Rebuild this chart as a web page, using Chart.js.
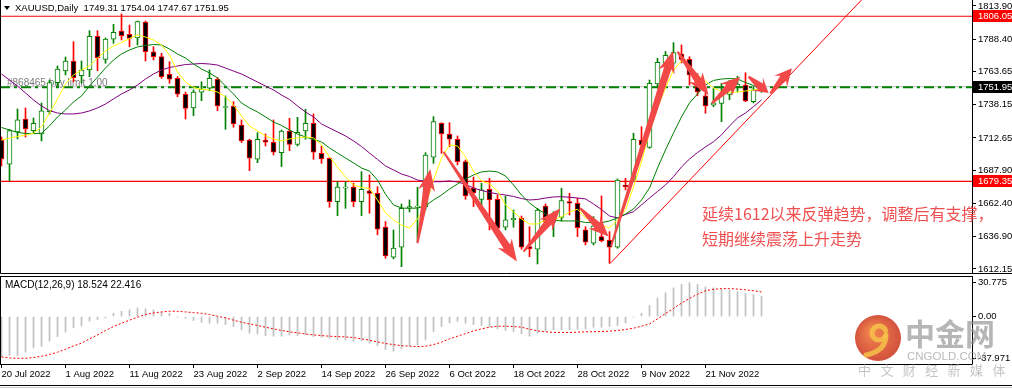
<!DOCTYPE html>
<html>
<head>
<meta charset="utf-8">
<script src="https://cdn.jsdelivr.net/npm/chart.js@4/dist/chart.umd.min.js"></script>
<style>
html, body { margin: 0; padding: 0; background: #fff; }
#wrap { position: relative; width: 1012px; height: 389px; overflow: hidden; background: #fff; }
canvas { position: absolute; left: 0; }
#main { top: 0; }
#macd { top: 275px; }
</style>
</head>
<body>
<div id="wrap">
  <canvas id="main" width="1012" height="275"></canvas>
  <canvas id="macd" width="1012" height="114"></canvas>
</div>
<script>
// XAUUSD daily candles
const dates = [
  '20 Jul 2022','21 Jul 2022','22 Jul 2022','25 Jul 2022','26 Jul 2022','27 Jul 2022','28 Jul 2022','29 Jul 2022',
  '1 Aug 2022','2 Aug 2022','3 Aug 2022','4 Aug 2022','5 Aug 2022','8 Aug 2022','9 Aug 2022','10 Aug 2022',
  '11 Aug 2022','12 Aug 2022','15 Aug 2022','16 Aug 2022','17 Aug 2022','18 Aug 2022','19 Aug 2022','22 Aug 2022',
  '23 Aug 2022','24 Aug 2022','25 Aug 2022','26 Aug 2022','29 Aug 2022','30 Aug 2022','31 Aug 2022','1 Sep 2022',
  '2 Sep 2022','5 Sep 2022','6 Sep 2022','7 Sep 2022','8 Sep 2022','9 Sep 2022','12 Sep 2022','13 Sep 2022',
  '14 Sep 2022','15 Sep 2022','16 Sep 2022','19 Sep 2022','20 Sep 2022','21 Sep 2022','22 Sep 2022','23 Sep 2022',
  '26 Sep 2022','27 Sep 2022','28 Sep 2022','29 Sep 2022','30 Sep 2022','3 Oct 2022','4 Oct 2022','5 Oct 2022',
  '6 Oct 2022','7 Oct 2022','10 Oct 2022','11 Oct 2022','12 Oct 2022','13 Oct 2022','14 Oct 2022','17 Oct 2022',
  '18 Oct 2022','19 Oct 2022','20 Oct 2022','21 Oct 2022','24 Oct 2022','25 Oct 2022','26 Oct 2022','27 Oct 2022',
  '28 Oct 2022','31 Oct 2022','1 Nov 2022','2 Nov 2022','3 Nov 2022','4 Nov 2022','7 Nov 2022','8 Nov 2022',
  '9 Nov 2022','10 Nov 2022','11 Nov 2022','14 Nov 2022','15 Nov 2022','16 Nov 2022','17 Nov 2022','18 Nov 2022',
  '21 Nov 2022','22 Nov 2022','23 Nov 2022','24 Nov 2022','25 Nov 2022','28 Nov 2022','29 Nov 2022','30 Nov 2022'
];

const open = [
  1711.1,1692.5,1717.3,1727.2,1718.3,1715.7,1732.8,1755.1,1764.0,1771.7,
  1760.4,1764.8,1790.7,1773.0,1788.4,1794.7,1792.2,1789.4,1801.6,1778.8,
  1775.0,1761.5,1758.4,1746.2,1735.7,1747.7,1750.8,1757.7,1736.0,1737.2,
  1722.6,1711.1,1696.3,1711.1,1709.4,1701.4,1718.0,1707.8,1718.0,1723.9,
  1700.9,1697.1,1663.8,1674.2,1674.9,1663.8,1672.2,1670.2,1644.2,1621.2,
  1628.8,1659.0,1659.5,1660.0,1697.9,1723.9,1715.7,1711.7,1694.5,1674.3,
  1665.6,1673.3,1665.6,1644.2,1650.0,1651.1,1629.3,1627.3,1660.5,1648.1,
  1651.8,1663.8,1662.6,1642.1,1631.9,1637.0,1634.4,1628.8,1676.6,1680.4,
  1711.1,1705.5,1754.1,1770.0,1770.0,1777.1,1773.0,1758.0,1744.9,1737.9,
  1739.2,1746.0,1752.0,1753.3,1740.5,1749.31
];
const high = [
  1713.4,1719.3,1734.9,1735.7,1728.0,1739.5,1757.0,1767.9,1774.8,1786.5,
  1771.7,1795.0,1795.0,1789.4,1799.9,1807.8,1799.3,1802.4,1802.4,1782.7,
  1777.6,1771.2,1759.7,1747.9,1749.5,1755.8,1764.8,1758.9,1744.9,1740.5,
  1726.5,1711.7,1716.7,1715.7,1726.5,1718.8,1727.8,1728.5,1734.7,1731.1,
  1706.5,1697.5,1679.1,1679.1,1677.9,1686.8,1684.3,1675.3,1648.5,1642.1,
  1662.0,1665.1,1674.9,1701.4,1729.0,1724.4,1724.4,1714.2,1695.8,1682.7,
  1677.9,1681.7,1668.9,1668.2,1657.4,1652.8,1644.6,1658.7,1662.0,1656.1,
  1674.1,1670.2,1666.4,1644.6,1652.3,1668.2,1640.8,1681.2,1681.7,1716.3,
  1721.3,1757.1,1773.8,1779.0,1785.8,1784.0,1775.0,1762.0,1747.0,1750.8,
  1754.6,1757.0,1760.0,1762.7,1752.0,1754.04
];
const low = [
  1691.2,1679.9,1711.9,1713.4,1716.5,1710.4,1731.0,1751.8,1761.0,1755.8,
  1754.8,1759.7,1764.3,1770.0,1785.3,1787.8,1782.7,1784.0,1771.7,1772.5,
  1758.4,1754.6,1744.3,1727.2,1729.8,1741.3,1748.9,1733.6,1719.3,1720.9,
  1709.1,1687.6,1693.7,1706.5,1699.6,1690.7,1702.9,1706.5,1711.7,1696.3,
  1693.2,1659.5,1653.0,1658.7,1660.0,1653.0,1654.9,1638.3,1620.4,1619.9,
  1613.9,1655.9,1633.1,1657.4,1693.2,1700.9,1706.0,1692.0,1665.6,1660.0,
  1660.0,1642.1,1642.6,1642.1,1644.2,1627.3,1621.6,1616.0,1647.2,1637.0,
  1649.0,1653.6,1637.0,1630.6,1630.6,1632.9,1616.5,1628.1,1672.8,1679.1,
  1706.5,1704.7,1751.0,1764.0,1767.9,1770.2,1753.3,1745.0,1731.6,1736.6,
  1725.2,1742.0,1748.0,1740.5,1739.5,1747.67
];
const close = [
  1696.5,1718.3,1726.5,1719.6,1723.9,1733.4,1755.1,1765.6,1771.7,1758.9,
  1764.8,1790.7,1774.2,1788.6,1793.7,1791.1,1789.1,1801.9,1778.8,1775.0,
  1759.7,1757.7,1746.2,1735.4,1747.9,1750.0,1758.4,1737.2,1736.8,1723.4,
  1710.4,1697.1,1711.7,1709.4,1701.7,1718.0,1707.8,1717.0,1723.9,1701.7,
  1696.6,1663.8,1674.9,1675.0,1663.8,1673.3,1670.2,1642.6,1622.2,1628.1,
  1658.7,1660.0,1660.5,1699.6,1725.2,1715.7,1711.7,1694.5,1668.2,1670.5,
  1672.8,1665.1,1643.4,1649.8,1651.0,1628.8,1627.7,1657.4,1648.5,1651.3,
  1664.6,1662.6,1643.9,1632.7,1645.2,1633.9,1628.8,1680.4,1675.3,1711.7,
  1707.3,1754.6,1770.7,1776.0,1778.1,1773.0,1761.0,1748.0,1737.2,1739.7,
  1746.9,1752.0,1754.0,1741.0,1749.5,1751.95
];

// moving averages as drawn (yellow fast, green medium, purple slow)
const maFast = [
  1711.1,1712.6,1713.8,1714.9,1716.3,1721.1,1731.8,1742.6,1754.1,1761.0,
  1764.8,1767.9,1774.0,1779.4,1783.2,1785.9,1789.0,1791.7,1790.1,1787.8,
  1784.0,1776.3,1763.3,1755.6,1751.4,1749.9,1749.5,1747.9,1744.1,1738.0,
  1729.5,1721.9,1718.0,1714.2,1711.9,1710.4,1711.9,1712.7,1713.4,1712.7,
  1707.3,1698.1,1690.4,1682.7,1676.6,1674.7,1673.9,1665.1,1655.1,1649.8,
  1645.9,1643.6,1650.5,1660.5,1680.4,1697.3,1707.3,1706.5,1698.1,1687.3,
  1679.7,1677.4,1672.0,1661.3,1655.9,1650.5,1646.7,1646.7,1649.8,1649.8,
  1652.1,1655.9,1658.0,1651.3,1649.0,1645.9,1643.6,1649.8,1657.4,1675.1,
  1694.3,1717.3,1735.7,1751.0,1764.8,1771.7,1768.6,1761.0,1756.4,1751.0,
  1748.3,1747.5,1747.9,1748.7,1749.5,1750.2
];
const maMid = [
  1720.7,1718.8,1716.9,1716.1,1716.0,1716.3,1721.9,1728.8,1734.1,1740.3,
  1744.9,1752.5,1759.4,1766.3,1772.5,1777.1,1780.2,1782.5,1783.6,1784.4,
  1784.0,1780.9,1777.1,1774.0,1769.4,1765.6,1762.5,1758.7,1752.5,1746.4,
  1739.5,1735.7,1732.6,1728.8,1724.9,1722.2,1718.8,1715.7,1713.4,1711.5,
  1709.6,1705.0,1701.1,1697.3,1693.5,1689.6,1687.3,1680.4,1669.5,1661.3,
  1658.9,1658.7,1658.9,1660.5,1665.1,1668.9,1673.5,1677.4,1681.2,1684.3,
  1686.6,1687.3,1686.6,1683.5,1676.6,1668.9,1662.8,1658.2,1654.4,1649.8,
  1649.0,1649.0,1649.0,1647.8,1647.7,1647.7,1649.0,1651.3,1654.4,1658.2,
  1665.1,1674.3,1689.6,1703.5,1716.5,1728.8,1739.5,1746.4,1753.3,1756.8,
  1757.9,1758.3,1757.9,1755.2,1752.9,1751.0
];
const maSlow = [
  1761.7,1757.1,1752.5,1747.2,1741.8,1737.2,1733.7,1731.8,1731.1,1731.1,
  1731.8,1733.4,1735.7,1738.7,1742.6,1746.4,1749.5,1753.3,1757.9,1761.7,
  1764.8,1766.7,1767.9,1769.0,1769.4,1769.8,1769.4,1768.6,1766.3,1764.0,
  1761.7,1758.7,1755.6,1752.5,1749.5,1745.6,1742.2,1737.2,1732.6,1728.8,
  1723.4,1720.3,1717.3,1714.2,1710.4,1706.1,1701.1,1696.2,1691.2,1688.1,
  1685.0,1683.1,1680.4,1679.3,1679.1,1679.1,1679.7,1678.9,1677.0,1674.3,
  1672.4,1670.9,1669.7,1668.9,1667.8,1666.2,1665.1,1665.5,1666.6,1667.4,
  1667.6,1667.2,1666.6,1665.9,1662.0,1657.8,1652.8,1651.3,1654.0,1656.1,
  1661.3,1666.6,1671.6,1676.6,1683.0,1690.4,1696.5,1701.5,1705.8,1709.8,
  1715.0,1721.9,1728.0,1731.8,1736.7,1741.8
];

// MACD(12,26,9): main as histogram, signal as dotted line
const macdMain = [
  -36.4,-35.5,-35.5,-32.4,-28.5,-27.0,-22.4,-18.2,-14.2,-10.3,
  -8.5,-4.2,-2.7,-1.2,3.0,4.8,6.1,7.9,7.0,6.1,
  3.9,3.0,-0.5,-1.5,-3.6,-5.2,-6.1,-6.1,-7.3,-9.1,
  -12.1,-15.2,-15.8,-17.3,-17.9,-17.9,-16.7,-17.3,-16.7,-18.2,
  -18.8,-19.7,-21.2,-21.2,-22.7,-21.8,-24.2,-26.4,-30.0,-31.5,
  -29.4,-26.4,-26.0,-21.2,-13.6,-9.1,-5.8,-4.5,-6.1,-7.3,
  -8.2,-9.7,-11.2,-12.7,-13.6,-15.8,-17.9,-15.2,-13.3,-12.1,
  -12.1,-12.1,-11.5,-11.2,-9.7,-9.7,-9.1,-8.2,-5.8,-0.6,
  3.0,10.1,16.8,21.6,26.0,29.2,30.775,29.2,27.0,26.0,
  25.0,23.8,22.5,21.0,19.9,18.524
];
const macdSignal = [
  -36.7,-37.6,-37.971,-37.9,-37.3,-36.1,-34.5,-32.4,-29.7,-26.7,
  -24.2,-20.3,-16.7,-12.7,-9.1,-6.1,-3.3,-0.6,1.8,3.3,
  4.2,4.8,4.8,4.2,3.6,3.0,1.8,0.3,-1.2,-3.3,
  -5.2,-6.7,-8.2,-9.7,-11.2,-12.7,-13.9,-14.8,-15.8,-16.7,
  -17.3,-17.9,-18.2,-18.5,-19.1,-20.3,-21.5,-23.0,-24.5,-25.5,
  -26.5,-27.0,-27.3,-27.0,-25.5,-23.3,-20.3,-17.9,-15.5,-13.0,
  -11.2,-9.7,-8.8,-8.8,-9.1,-9.7,-11.5,-13.0,-13.9,-14.4,
  -14.5,-14.5,-14.2,-13.9,-13.8,-13.6,-13.3,-12.7,-11.8,-10.6,
  -8.8,-6.7,-2.1,2.8,7.4,12.2,16.5,20.3,23.5,24.8,
  25.4,25.4,25.0,24.3,23.4,22.416
];

const priceTicks = [1813.90, 1788.40, 1763.65, 1738.15, 1712.65, 1687.90, 1662.40, 1636.90, 1612.15];
const macdTicks = [30.775, 0, -37.971];
const dateTickIdx = [0, 8, 16, 24, 32, 40, 48, 56, 64, 72, 80, 88];

const redLevels = [1806.05, 1679.35];
const bidPrice = 1751.95;
const orderPrice = 1751.5;

// support trend line and hand-drawn arrows, in [bar index, price]
const trendLine = [[76.1, 1616.5], [107.5, 1818.5]];
const arrows = [
  [52.0, 1631.9, 53.6, 1688.9],
  [55.25, 1702.1, 64.43, 1617.8],
  [65.25, 1625.4, 69.84, 1658.7],
  [72.34, 1658.7, 75.88, 1637.0],
  [76.2, 1629.8, 83.96, 1779.4],
  [84.5, 1778.9, 88.38, 1745.6],
  [88.8, 1739.3, 92.34, 1759.7],
  [93.38, 1759.7, 95.88, 1747.1],
  [96.09, 1746.9, 98.8, 1766.1]
];
const noteLines = ['延续1612以来反弹趋势，调整后有支撑，', '短期继续震荡上升走势'];

const X_MIN = -0.1875, X_MAX = 121.3125;
const AXIS_FONT = { family: 'Liberation Sans', size: 9.5 };
const BULL = '#008000', BEAR = '#ff0000';

const isBull = close.map((c, i) => c >= open[i]);
const pts = arr => arr.map((v, i) => ({ x: i, y: v }));
const flat = v => [{ x: X_MIN, y: v }, { x: X_MAX, y: v }];
const noPad = s => { s.paddingTop = 0; s.paddingBottom = 0; s.paddingLeft = 0; s.paddingRight = 0; };

function drawArrow(ctx, x0, y0, x1, y1) {
  const dx = x1 - x0, dy = y1 - y0, L = Math.hypot(dx, dy);
  const ux = dx / L, uy = dy / L, nx = -uy, ny = ux;
  const hl = Math.min(18, L * 0.4), hw = 8.5, nw = 3.8, tw = 1;
  const bx = x1 - ux * hl, by = y1 - uy * hl;
  ctx.beginPath();
  ctx.moveTo(x0 + nx * tw, y0 + ny * tw);
  ctx.lineTo(bx + nx * nw, by + ny * nw);
  ctx.lineTo(bx - ux * 4 + nx * hw, by - uy * 4 + ny * hw);
  ctx.lineTo(x1, y1);
  ctx.lineTo(bx - ux * 4 - nx * hw, by - uy * 4 - ny * hw);
  ctx.lineTo(bx - nx * nw, by - ny * nw);
  ctx.lineTo(x0 - nx * tw, y0 - ny * tw);
  ctx.closePath();
  ctx.fill();
}

function hLine(ctx, y, x0, x1) {
  const yy = Math.round(y) + 0.5;
  ctx.beginPath();
  ctx.moveTo(x0, yy);
  ctx.lineTo(x1, yy);
  ctx.stroke();
}

const mainDecor = {
  id: 'mainDecor',
  beforeDraw(c) {
    const ctx = c.ctx;
    ctx.save();
    ctx.fillStyle = '#fff';
    ctx.fillRect(0, 0, c.width, c.height);
    ctx.restore();
  },
  beforeDatasetsDraw(c) {
    const ctx = c.ctx;
    ctx.save();
    ctx.font = '10px "Liberation Sans"';
    ctx.fillStyle = '#7a7a7a';
    ctx.textBaseline = 'alphabetic';
    ctx.fillText('#868465 buy limit 1.00', 7, 86);
    ctx.restore();
  },
  afterDatasetsDraw(c) {
    const ctx = c.ctx, x = c.scales.x, y = c.scales.y, a = c.chartArea;
    ctx.save();
    ctx.beginPath();
    ctx.rect(a.left, a.top, a.right - a.left, a.bottom - a.top);
    ctx.clip();
    ctx.fillStyle = '#f34848';
    arrows.forEach(([k0, p0, k1, p1]) => drawArrow(ctx,
      x.getPixelForValue(k0), y.getPixelForValue(p0),
      x.getPixelForValue(k1), y.getPixelForValue(p1)));
    ctx.restore();
  },
  afterDraw(c) {
    const ctx = c.ctx, a = c.chartArea, y = c.scales.y;
    ctx.save();
    ctx.strokeStyle = '#000';
    ctx.lineWidth = 1;
    ctx.beginPath();
    ctx.moveTo(0.5, 0); ctx.lineTo(0.5, 273.5);
    ctx.lineTo(1012, 273.5);
    ctx.moveTo(a.right + 0.5, 0); ctx.lineTo(a.right + 0.5, 273.5);
    ctx.stroke();
    // note text runs over the price axis
    ctx.fillStyle = '#f04f4f';
    ctx.font = '16px "Noto Sans CJK SC"';
    ctx.textBaseline = 'middle';
    ctx.fillText(noteLines[0], 702, 213.5);
    ctx.fillText(noteLines[1], 702, 238.5);
    // header
    ctx.fillStyle = '#000';
    ctx.beginPath();
    ctx.moveTo(4, 6); ctx.lineTo(10, 6); ctx.lineTo(7, 10); ctx.closePath(); ctx.fill();
    ctx.font = '9.5px "Liberation Sans"';
    ctx.fillText('XAUUSD,Daily  1749.31 1754.04 1747.67 1751.95', 15, 8.5);
    // price boxes on the axis
    [[1806.05, '#ff0000'], [bidPrice, '#000000'], [1679.35, '#ff0000']].forEach(([v, bg]) => {
      const py = Math.round(y.getPixelForValue(v));
      ctx.fillStyle = bg;
      ctx.fillRect(a.right + 1, py - 6, 1012 - a.right - 1, 12);
      ctx.fillStyle = '#fff';
      ctx.fillText(v.toFixed(2), a.right + 6, py + 0.5);
    });
    ctx.restore();
  }
};

new Chart(document.getElementById('main'), {
  type: 'bar',
  data: {
    datasets: [
      { type: 'line', data: pts(maFast), borderColor: '#ffff00', borderWidth: 1, pointRadius: 0, order: 1 },
      { type: 'line', data: pts(maMid), borderColor: '#008000', borderWidth: 1, pointRadius: 0, order: 1 },
      { type: 'line', data: pts(maSlow), borderColor: '#800080', borderWidth: 1, pointRadius: 0, order: 1 },
      { type: 'line', data: trendLine.map(([k, p]) => ({ x: k, y: p })), borderColor: '#ff0000', borderWidth: 1, pointRadius: 0, order: 0 },
      {
        data: open.map((o, i) => ({ x: i, y: [o, close[i]] })),
        backgroundColor: isBull.map(b => b ? '#ffffff' : '#000000'),
        borderColor: isBull.map(b => b ? BULL : BEAR),
        borderWidth: 1, borderSkipped: false, barThickness: 5, grouped: false, order: 2
      },
      {
        data: low.map((l, i) => ({ x: i, y: [l, high[i]] })),
        backgroundColor: isBull.map(b => b ? BULL : BEAR),
        borderWidth: 0, barThickness: 1, grouped: false, order: 3
      },
      // horizontal levels behind the candles
      { type: 'line', data: flat(redLevels[0]), borderColor: '#ff0000', borderWidth: 1.2, pointRadius: 0, order: 5 },
      { type: 'line', data: flat(redLevels[1]), borderColor: '#ff0000', borderWidth: 1.2, pointRadius: 0, order: 5 },
      { type: 'line', data: flat(bidPrice), borderColor: '#c0c0c0', borderWidth: 1, pointRadius: 0, order: 5 },
      { type: 'line', data: flat(orderPrice), borderColor: '#008000', borderWidth: 2, borderDash: [10, 4, 3, 4], pointRadius: 0, order: 4 }
    ]
  },
  options: {
    responsive: false, animation: false, devicePixelRatio: 1,
    layout: { padding: { top: 0, bottom: 1, left: 0, right: 0 } },
    plugins: { legend: { display: false }, tooltip: { enabled: false } },
    scales: {
      x: { type: 'linear', min: X_MIN, max: X_MAX, offset: false, display: false },
      y: {
        position: 'right', min: 1608.3, max: 1818.5,
        afterFit(s) { s.width = 40; noPad(s); },
        afterBuildTicks(s) { s.ticks = priceTicks.map(v => ({ value: v })); },
        ticks: { callback: v => v.toFixed(2), font: AXIS_FONT, color: '#000', padding: 2 },
        grid: { drawOnChartArea: false, tickLength: 4, color: '#000' },
        border: { display: false }
      }
    }
  },
  plugins: [mainDecor]
});

const macdDecor = {
  id: 'macdDecor',
  beforeDraw(c) {
    const ctx = c.ctx;
    ctx.save();
    ctx.fillStyle = '#fff';
    ctx.fillRect(0, 0, c.width, c.height);
    ctx.restore();
  },
  afterDraw(c) {
    const ctx = c.ctx, a = c.chartArea;
    ctx.save();
    ctx.strokeStyle = '#000';
    ctx.lineWidth = 1;
    ctx.strokeRect(0.5, 1.5, a.right, a.bottom - 1);
    hLine(ctx, 110, 0, 1012);
    ctx.strokeStyle = '#c8c8c8';
    hLine(ctx, 112, 0, 1012);
    ctx.fillStyle = '#000';
    ctx.font = '10px "Liberation Sans"';
    ctx.textBaseline = 'middle';
    ctx.fillText('MACD(12,26,9) 18.524 22.416', 5, 10);
    // cngold watermark
    ctx.globalAlpha = 0.85;
    const g = ctx.createRadialGradient(872, 56, 4, 878, 63, 24);
    g.addColorStop(0, '#ec6a2c');
    g.addColorStop(1, '#c9301a');
    ctx.fillStyle = g;
    ctx.beginPath(); ctx.arc(878, 63, 23, 0, Math.PI * 2); ctx.fill();
    ctx.strokeStyle = '#f6c24a';
    ctx.lineWidth = 5;
    ctx.lineCap = 'round';
    ctx.beginPath(); ctx.arc(879, 58, 7, Math.PI * 0.15, Math.PI * 1.9); ctx.stroke();
    ctx.beginPath(); ctx.moveTo(886, 60); ctx.quadraticCurveTo(886, 76, 866, 80); ctx.stroke();
    ctx.fillStyle = 'rgba(140,140,140,0.75)';
    ctx.font = 'bold 30px "Noto Sans CJK SC"';
    ctx.textBaseline = 'middle';
    ctx.fillText('中金网', 905, 59);
    ctx.fillStyle = 'rgba(160,160,160,0.85)';
    ctx.font = '11.5px "Liberation Sans"';
    ctx.fillText('CNGOLD.COM', 907, 82);
    ctx.font = '13px "Noto Sans CJK SC"';
    ctx.fillStyle = 'rgba(175,175,175,0.85)';
    '中文财经新媒体'.split('').forEach((ch, i) => ctx.fillText(ch, 858 + i * 22.4, 95));
    ctx.restore();
  }
};

new Chart(document.getElementById('macd'), {
  type: 'bar',
  data: {
    datasets: [
      { type: 'line', data: pts(macdSignal), borderColor: '#ff0000', borderWidth: 1, borderDash: [2, 2], pointRadius: 0, order: 0 },
      { data: pts(macdMain), backgroundColor: '#c0c0c0', borderWidth: 0, barThickness: 1, grouped: false, order: 1 }
    ]
  },
  options: {
    responsive: false, animation: false, devicePixelRatio: 1,
    layout: { padding: { top: 2, bottom: 0, left: 0, right: 0 } },
    plugins: { legend: { display: false }, tooltip: { enabled: false } },
    scales: {
      x: {
        type: 'linear', min: X_MIN, max: X_MAX, offset: false, position: 'bottom',
        afterFit(s) { s.height = 25; noPad(s); },
        afterBuildTicks(s) { s.ticks = dateTickIdx.map(v => ({ value: v })); },
        ticks: { callback: v => dates[v], align: 'start', maxRotation: 0, autoSkip: false, font: AXIS_FONT, color: '#000', padding: 1 },
        grid: { drawOnChartArea: false, tickLength: 4, color: '#000', offset: false },
        border: { display: false }
      },
      y: {
        position: 'right', min: -43.15, max: 35.96,
        afterFit(s) { s.width = 40; noPad(s); },
        afterBuildTicks(s) { s.ticks = macdTicks.map(v => ({ value: v })); },
        ticks: { callback: v => v === 0 ? '0.00' : String(v), font: AXIS_FONT, color: '#000', padding: 2 },
        grid: { drawOnChartArea: false, tickLength: 4, color: '#000' },
        border: { display: false }
      }
    }
  },
  plugins: [macdDecor]
});
</script>
</body>
</html>
